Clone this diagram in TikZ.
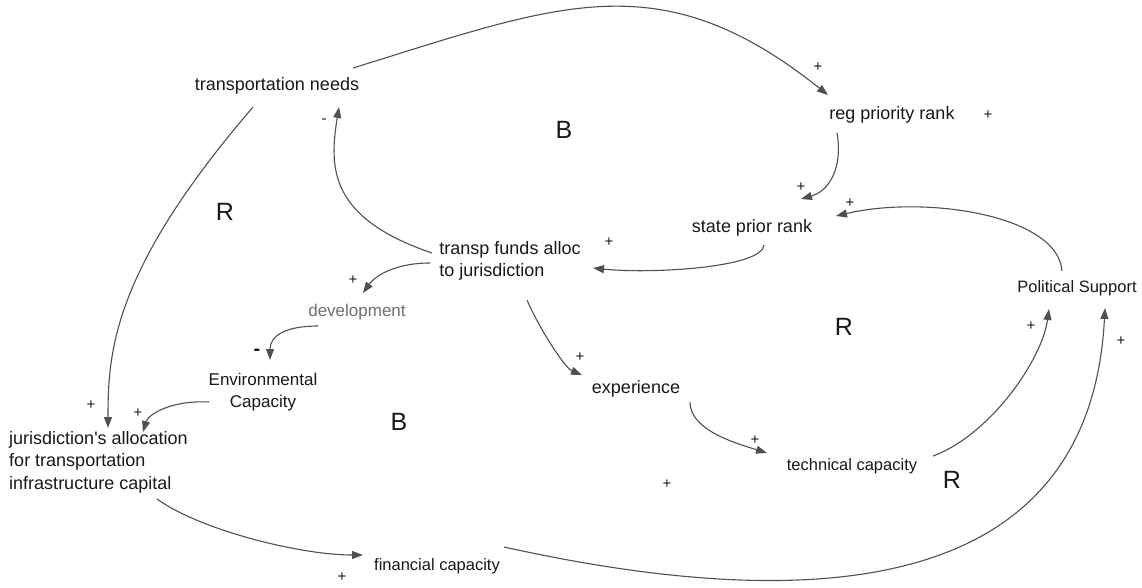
\documentclass[tikz,border=0pt]{standalone}
\usepackage{fontspec}
\setmainfont{Liberation Sans}
\usetikzlibrary{arrows.meta}
\definecolor{linkgray}{HTML}{505050}
\definecolor{devgray}{HTML}{707070}

\begin{document}
\begin{tikzpicture}[x=1pt,y=-1pt]
\tikzstyle{every node} = [inner sep=0pt, text=black!90]
\tikzstyle{var} = [font=\fontsize{18}{22.5}\selectfont]
\tikzstyle{varmid} = [font=\fontsize{17}{22.5}\selectfont]
\tikzstyle{varsm} = [font=\fontsize{16.5}{20}\selectfont]
\tikzstyle{sign} = [font=\fontsize{15}{17}\selectfont]
\tikzstyle{loopmark} = [font=\fontsize{25}{30}\selectfont]
\tikzstyle{link} = [-{Triangle[length=11pt,width=8pt]}, draw=linkgray, line width=1.1pt]
\path[use as bounding box, fill=white] (0,0) rectangle (1142,587);

% variables
\node[var] (tneeds) at (277,86) {transportation needs};
\node[var] (regrank) at (892,115) {reg priority rank};
\node[var] (state) at (752,228) {state prior rank};
\node[var, align=left] (transp) at (510,261) {transp funds alloc\\to jurisdiction};
\node[varmid, text=devgray] (devel) at (357,312) {development};
\node[varmid, align=center] (envcap) at (263,392) {Environmental\\Capacity};
\node[var, align=left] (jurisd) at (98.5,462) {jurisdiction\textquotesingle s allocation\\for transportation\\infrastructure capital};
\node[var] (exper) at (636,389) {experience};
\node[varsm] (techcap) at (852,466) {technical capacity};
\node[varsm] (polsup) at (1077,288) {Political Support};
\node[varsm] (fincap) at (437,566) {financial capacity};

% loop markers
\node[loopmark] (loopb1) at (564,130) {B};
\node[loopmark] (loopr1) at (225,212) {R};
\node[loopmark] (loopr2) at (844,327) {R};
\node[loopmark] (loopb2) at (399,422) {B};
\node[loopmark] (loopr3) at (952,480) {R};

% polarity signs
\node[sign] (s1) at (818,67) {+};
\node[sign] (s2) at (988,115) {+};
\node[sign] (s3) at (324,121) {-};
\node[sign] (s4) at (801,187) {+};
\node[sign] (s5) at (850,203) {+};
\node[sign] (s6) at (609,242) {+};
\node[sign] (s7) at (353,280) {+};
\node[font=\fontsize{20}{22}\selectfont\bfseries] (s8) at (257,352) {-};
\node[sign] (s9) at (91,405) {+};
\node[sign] (s10) at (138,413) {+};
\node[sign] (s11) at (580,357) {+};
\node[sign] (s12) at (755,440) {+};
\node[sign] (s13) at (667,484) {+};
\node[sign] (s14) at (1031,326) {+};
\node[sign] (s15) at (1121,341) {+};
\node[sign] (s16) at (342,577) {+};

% links
\draw[link] ([shift={(76,-18)}]tneeds.center) .. controls (560,4) and (660,-39) .. ([shift={(-64,-20)}]regrank.center);
\draw[link] ([shift={(-55,18)}]regrank.center) .. controls (843,168) and (829,191) .. ([shift={(49,-29)}]state.center);
\draw[link] ([shift={(-15,-17)}]polsup.center) .. controls (1058,215) and (925,195) .. ([shift={(84,-12)}]state.center);
\draw[link] ([shift={(12,17)}]state.center) .. controls (762,268) and (650,274) .. ([shift={(83,7)}]transp.center);
\draw[link] ([shift={(-78,-8)}]transp.center) .. controls (329,218) and (329,168) .. ([shift={(62,21)}]tneeds.center);
\draw[link] ([shift={(-24,21)}]tneeds.center) .. controls (113,270) and (108,351) .. ([shift={(9.5,-34)}]jurisd.center);
\draw[link] ([shift={(-80,2)}]transp.center) .. controls (395,263) and (375,276) .. ([shift={(6,-19)}]devel.center);
\draw[link] ([shift={(-39,14)}]devel.center) .. controls (285,326) and (270,336) .. ([shift={(7,-32)}]envcap.center);
\draw[link] ([shift={(-54,10)}]envcap.center) .. controls (170,400) and (148,415) .. ([shift={(44.5,-30)}]jurisd.center);
\draw[link] ([shift={(17,39)}]transp.center) .. controls (540,330) and (565,368) .. ([shift={(-54,-14)}]exper.center);
\draw[link] ([shift={(54,13)}]exper.center) .. controls (690,430) and (735,443) .. ([shift={(-85,-13)}]techcap.center);
\draw[link] ([shift={(81,-10)}]techcap.center) .. controls (990,435) and (1042,360) .. ([shift={(-28,21)}]polsup.center);
\draw[link] ([shift={(58.5,37)}]jurisd.center) .. controls (200,530) and (300,555) .. ([shift={(-74,-11)}]fincap.center);
\draw[link] ([shift={(67,-19)}]fincap.center) .. controls (884,631) and (1092,558) .. ([shift={(28,20)}]polsup.center);
\end{tikzpicture}
\end{document}
